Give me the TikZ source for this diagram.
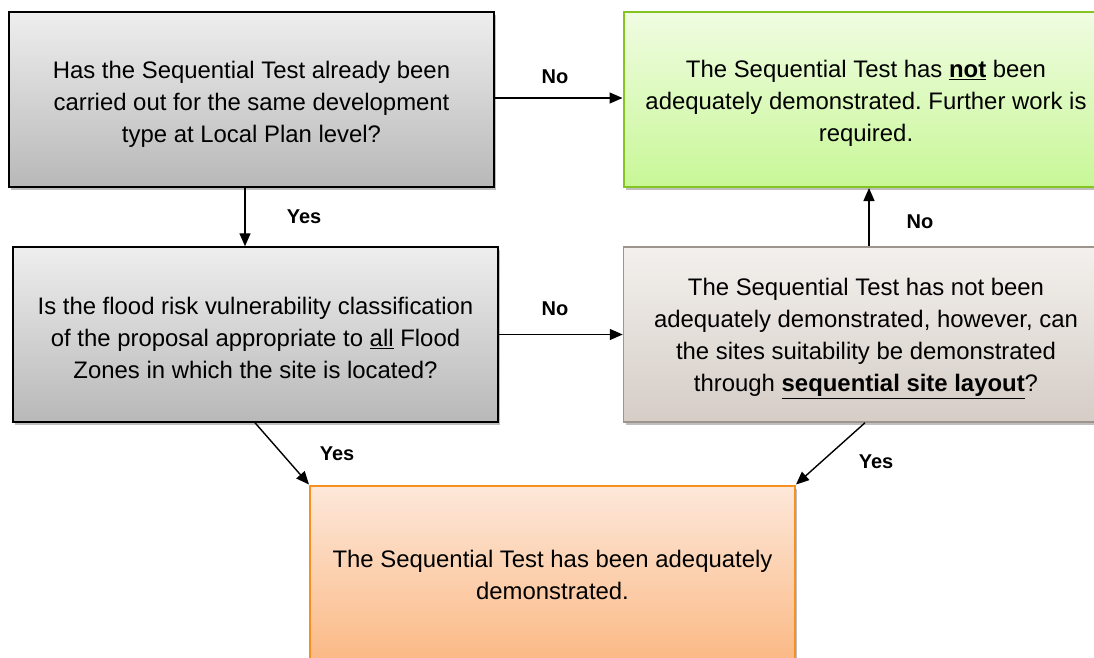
\documentclass[tikz,border=0pt]{standalone}
\usepackage{fontspec}
\setmainfont{Liberation Sans}
\usetikzlibrary{arrows.meta,shadows}
\frenchspacing
\definecolor{grayTop}{HTML}{EEEEEE}
\definecolor{grayBot}{HTML}{B8B8B8}
\definecolor{greenTop}{HTML}{F0FCE2}
\definecolor{greenBot}{HTML}{C8F797}
\definecolor{greenLine}{HTML}{86C422}
\definecolor{taupeTop}{HTML}{F3F0ED}
\definecolor{taupeBot}{HTML}{D5CDC6}
\definecolor{taupeLine}{HTML}{9D958D}
\definecolor{orTop}{HTML}{FDE8DA}
\definecolor{orBot}{HTML}{FBB985}
\definecolor{orLine}{HTML}{F7901E}
\newcommand{\topstrut}[1]{\rule{0pt}{#1}}
\tikzset{
  x=1pt,y=1pt,
  box/.style={rectangle, minimum width=485pt, minimum height=175pt, inner sep=0pt,
    align=center, font=\fontsize{23.9}{32}\selectfont,
    drop shadow={shadow xshift=2pt, shadow yshift=-3pt, opacity=0.25, fill=black}},
  graybox/.style={box, draw=black, line width=1.5pt, top color=grayTop, bottom color=grayBot},
  greenbox/.style={box, draw=greenLine, line width=2pt, top color=greenTop, bottom color=greenBot},
  taupebox/.style={box, draw=taupeLine, line width=1.5pt, top color=taupeTop, bottom color=taupeBot},
  orbox/.style={box, draw=orLine, line width=2pt, top color=orTop, bottom color=orBot},
  conn/.style={line width=1.4pt, -{Triangle[length=13pt,width=11pt]}},
  lbl/.style={font=\fontsize{20}{24}\selectfont\bfseries, inner sep=0pt}
}
\begin{document}
\begin{tikzpicture}
\useasboundingbox (0,0) rectangle (1094,-657);
\begin{scope}
\clip (0,0) rectangle (1094,-657);
\node[graybox] (A) at (251.5,-99.5) {\topstrut{27pt}Has the Sequential Test already been\\carried out for the same development\\type at Local Plan level?};
\node[greenbox] (B) at (866,-99.5) {\topstrut{25pt}The Sequential Test has \underline{\textbf{not}} been\\adequately demonstrated. Further work is\\required.};
\node[graybox] (C) at (255.5,-334.5) {\topstrut{24pt}Is the flood risk vulnerability classification\\of the proposal appropriate to \underline{all} Flood\\Zones in which the site is located?};
\node[taupebox] (D) at (866,-334.5) {\topstrut{25pt}The Sequential Test has not been\\adequately demonstrated, however, can\\the sites suitability be demonstrated\\through \underline{\textbf{sequential site layout}}?};
\node[orbox] (E) at (552.5,-573) {\topstrut{21pt}The Sequential Test has been adequately\\demonstrated.};
\end{scope}
\draw[conn] (A.east |- 0,-98) -- (B.west |- 0,-98);
\draw[conn] (A.south -| 245,0) -- (C.north -| 245,0);
\draw[conn] (C.east) -- (D.west);
\draw[conn] (D.north -| 869,0) -- (B.south -| 869,0);
\draw[conn] (C.south -| 255,0) -- (E.north west);
\draw[conn] (D.south -| 865,0) -- (E.north east);
\node[lbl] (l1) at (555,-77) {No};
\node[lbl] (l2) at (304,-217) {Yes};
\node[lbl] (l3) at (555,-309) {No};
\node[lbl] (l4) at (920,-222) {No};
\node[lbl] (l5) at (337,-454) {Yes};
\node[lbl] (l6) at (876,-462) {Yes};
\end{tikzpicture}
\end{document}
